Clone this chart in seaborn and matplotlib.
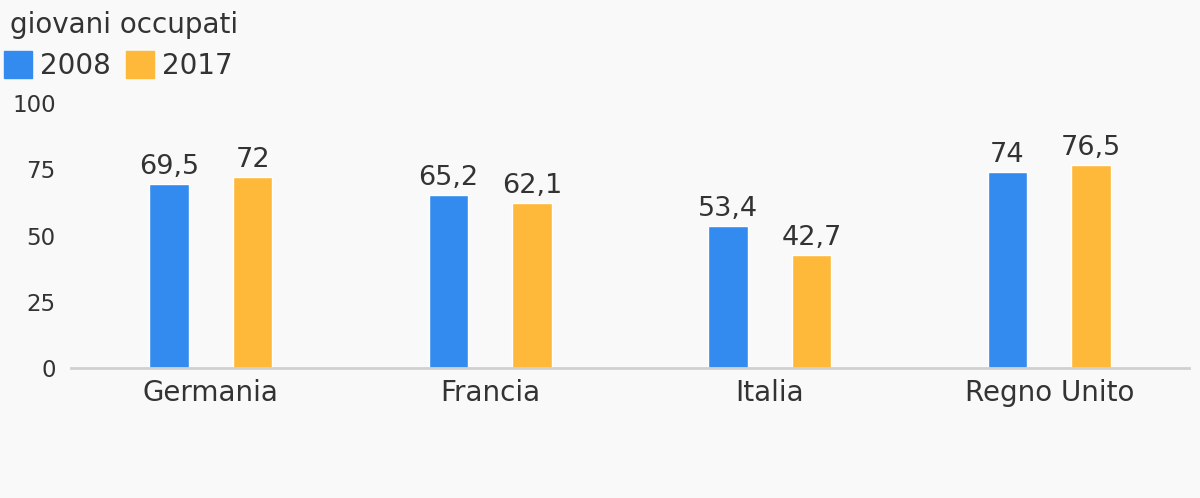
import matplotlib
matplotlib.use('Agg')

import matplotlib.pyplot as plt
import matplotlib.patches as mpatches
import seaborn as sns
import pandas as pd

paesi = ['Germania', 'Francia', 'Italia', 'Regno Unito']
anni = ['2008', '2017']
valori_2008 = [69.5, 65.2, 53.4, 74]
valori_2017 = [72, 62.1, 42.7, 76.5]
colori = ['#338bef', '#ffb93a']

df = pd.DataFrame({
    'paese': paesi * 2,
    'anno': [anni[0]] * 4 + [anni[1]] * 4,
    'valore': valori_2008 + valori_2017,
})

sns.set_style('white')
plt.rcParams['font.family'] = ['DejaVu Sans']
testo = '#333333'
sfondo = '#f9f9f9'

fig = plt.figure(figsize=(12, 4.98), dpi=100, facecolor=sfondo)
ax = fig.add_axes([71 / 1200, 1 - 368 / 498, 1118 / 1200, 265 / 498])
ax.set_facecolor(sfondo)

sns.barplot(data=df, x='paese', y='valore', hue='anno', palette=colori,
            width=0.6, gap=0.53, legend=False, saturation=1, ax=ax)

for cont in ax.containers:
    ax.bar_label(cont, labels=[f'{v:g}'.replace('.', ',') for v in cont.datavalues],
                 padding=3, fontsize=19.5, color=testo)

ax.set_xlim(-0.5, 3.5)
ax.set_ylim(0, 100)
ax.set_yticks([0, 25, 50, 75, 100])
ax.tick_params(axis='y', length=0, pad=11, labelsize=16.5, labelcolor=testo)
ax.tick_params(axis='x', length=0, pad=8, labelsize=20, labelcolor=testo)
ax.set_xlabel('')
ax.set_ylabel('')
for lato in ['top', 'right', 'left']:
    ax.spines[lato].set_visible(False)
ax.spines['bottom'].set_color('#d0d0d0')
ax.spines['bottom'].set_linewidth(2)
ax.grid(False)

fig.text(10 / 1200, 1 - 25 / 498, 'giovani occupati', fontsize=20, color=testo,
         va='center', ha='left')

handles = [mpatches.Patch(color=c, label=a) for c, a in zip(colori, anni)]
fig.legend(handles=handles, loc='upper left', bbox_to_anchor=(4 / 1200, 1 - 51 / 498),
           ncol=2, frameon=False, fontsize=20, labelcolor=testo,
           handlelength=1.0, handleheight=1.12, handletextpad=0.3,
           columnspacing=0.55, borderpad=0, borderaxespad=0)

fig.savefig('out.png', dpi=100, facecolor=sfondo)
